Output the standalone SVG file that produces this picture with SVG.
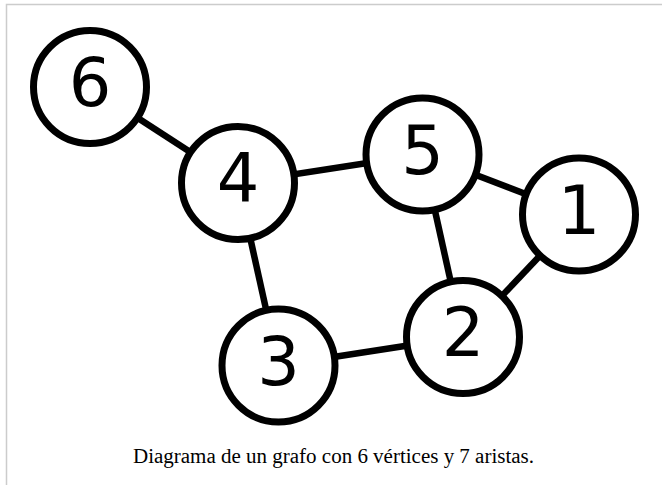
<svg xmlns="http://www.w3.org/2000/svg" width="662" height="485" viewBox="0 0 662 485">
<style>
.frame{stroke:#cccccc;stroke-width:1.5;fill:none}
.edge{stroke:#000;stroke-width:6.5;fill:none}
.node circle{fill:#fff;stroke:#000;stroke-width:7}
.node text{font-family:"DejaVu Sans",sans-serif;font-size:67px;text-anchor:middle;fill:#000}
.caption{font-family:"Liberation Serif",serif;font-size:20px;fill:#000}
</style>
<rect x="0" y="0" width="662" height="485" fill="#fff"/>
<path class="frame" d="M6.5,485 V4.5 H662"/>
<g id="edges">
<line class="edge" x1="90" y1="87" x2="238" y2="183"/>
<line class="edge" x1="238" y1="183" x2="422.5" y2="154.5"/>
<line class="edge" x1="422.5" y1="154.5" x2="579" y2="214.5"/>
<line class="edge" x1="422.5" y1="154.5" x2="463" y2="337"/>
<line class="edge" x1="579" y1="214.5" x2="463" y2="337"/>
<line class="edge" x1="238" y1="183" x2="278.5" y2="365.5"/>
<line class="edge" x1="278.5" y1="365.5" x2="463" y2="337"/>
</g>
<g id="node6" class="node"><circle cx="90" cy="87" r="56.5"/><text x="90" y="106">6</text></g>
<g id="node4" class="node"><circle cx="238" cy="183" r="56.5"/><text x="238" y="202">4</text></g>
<g id="node5" class="node"><circle cx="422.5" cy="154.5" r="56.5"/><text x="422.5" y="173.5">5</text></g>
<g id="node1" class="node"><circle cx="579" cy="214.5" r="56.5"/><text x="579" y="233.5">1</text></g>
<g id="node2" class="node"><circle cx="463" cy="337" r="56.5"/><text x="463" y="356">2</text></g>
<g id="node3" class="node"><circle cx="278.5" cy="365.5" r="56.5"/><text x="278.5" y="384.5">3</text></g>
<text class="caption" x="133" y="463" textLength="401" lengthAdjust="spacingAndGlyphs">Diagrama de un grafo con 6 vértices y 7 aristas.</text>
</svg>
